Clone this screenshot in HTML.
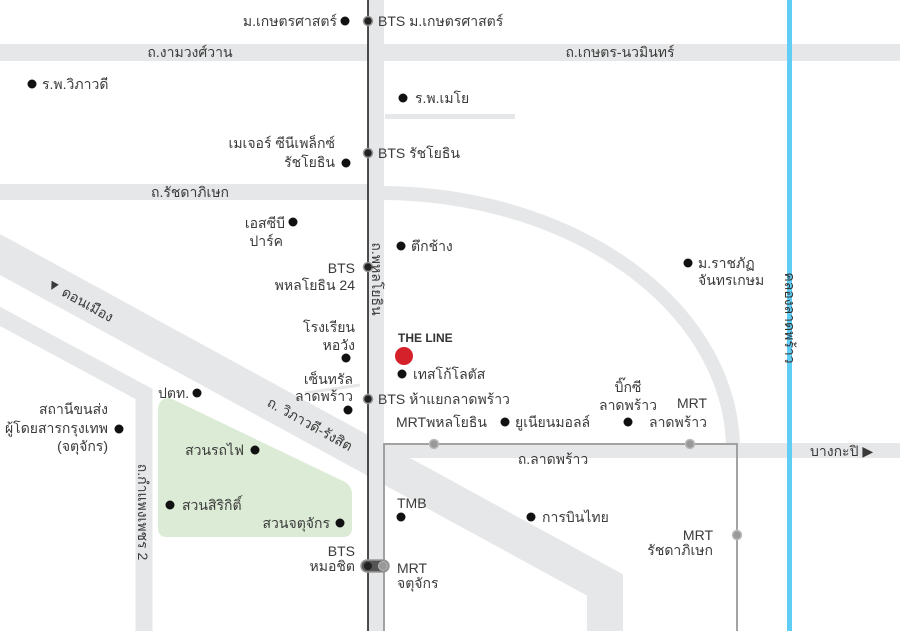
<!DOCTYPE html>
<html><head><meta charset="utf-8"><style>
html,body{margin:0;padding:0;background:#fff;}
svg{display:block;}
text{font-family:"Liberation Sans","DejaVu Sans",sans-serif;font-size:14px;fill:#3a3a3a;dominant-baseline:central;}
.e{text-anchor:end}.m{text-anchor:middle}
</style></head><body>
<svg width="900" height="631" viewBox="0 0 900 631" xmlns="http://www.w3.org/2000/svg">
<rect width="900" height="631" fill="#fff"/>
<g fill="#e6e7e8" stroke="none">
<rect x="0" y="44" width="900" height="17"/>
<rect x="0" y="184" width="380" height="16"/>
<rect x="368" y="0" width="16" height="631"/>
<rect x="385" y="114" width="130" height="5"/>
<rect x="383" y="443" width="517" height="15"/>
</g>
<path d="M380,193 A353 257 0 0 1 733,450" fill="none" stroke="#e6e7e8" stroke-width="14"/>
<path d="M-10,249 L605,585 L605,640" stroke="#e6e7e8" stroke-width="36" fill="none" stroke-linejoin="miter"/>
<path d="M-10,311 L144,394 L144,640" stroke="#e6e7e8" stroke-width="17" fill="none" stroke-linejoin="miter"/>
<path d="M305,393 L360,385" stroke="#e6e7e8" stroke-width="3" fill="none"/>
<path d="M170,398 L345,482 Q352,486 352,495 L352,528 Q352,537 343,537 L167,537 Q158,537 158,528 L158,410 Q158,398 170,398 Z" fill="#dcebd6"/>
<rect x="787" y="0" width="5" height="631" fill="#5fcdf5"/>
<path d="M384,631 L384,444 L737,444 L737,631" fill="none" stroke="#999" stroke-width="1.8"/>
<line x1="368" y1="0" x2="368" y2="631" stroke="#222" stroke-width="1.6"/>
<g fill="#999" stroke="#bbb" stroke-width="1.5">
<circle cx="434" cy="444" r="4.5"/><circle cx="690" cy="444" r="4.5"/><circle cx="737" cy="535" r="4.5"/>
</g>
<g fill="#222" stroke="#999" stroke-width="1.5">
<circle cx="368" cy="21" r="4.5"/><circle cx="368" cy="153" r="4.5"/><circle cx="368" cy="267" r="4.5"/><circle cx="368" cy="399" r="4.5"/>
</g>
<rect x="361" y="560" width="28" height="12" rx="6" fill="#555" stroke="#999" stroke-width="1.5"/>
<circle cx="368" cy="566" r="4" fill="#222"/><circle cx="383" cy="566" r="4.5" fill="#999" stroke="#bbb"/>
<g fill="#111">
<circle cx="345" cy="21" r="4.5"/><circle cx="32" cy="84" r="4.5"/><circle cx="403" cy="98" r="4.5"/>
<circle cx="346" cy="163" r="4.5"/><circle cx="293" cy="222" r="4.5"/><circle cx="401" cy="246" r="4.5"/>
<circle cx="688" cy="263" r="4.5"/><circle cx="346" cy="358" r="4.5"/><circle cx="402" cy="374" r="4.5"/>
<circle cx="348" cy="410" r="4.5"/><circle cx="197" cy="393" r="4.5"/><circle cx="119" cy="429" r="4.5"/>
<circle cx="505" cy="422" r="4.5"/><circle cx="628" cy="422" r="4.5"/><circle cx="255" cy="450" r="4.5"/>
<circle cx="170" cy="505" r="4.5"/><circle cx="340" cy="523" r="4.5"/><circle cx="401" cy="517" r="4.5"/>
<circle cx="531" cy="517" r="4.5"/>
</g>
<circle cx="404" cy="356" r="9" fill="#d4212a"/>
<text class="e" x="337" y="21">ม.เกษตรศาสตร์</text>
<text x="378" y="21">BTS ม.เกษตรศาสตร์</text>
<text class="m" x="190" y="52">ถ.งามวงศ์วาน</text>
<text class="m" x="620" y="52">ถ.เกษตร-นวมินทร์</text>
<text x="42" y="84">ร.พ.วิภาวดี</text>
<text x="415" y="98">ร.พ.เมโย</text>
<text class="e" x="335" y="143">เมเจอร์ ซีนีเพล็กซ์</text>
<text class="e" x="335" y="162">รัชโยธิน</text>
<text x="378" y="153">BTS รัชโยธิน</text>
<text class="m" x="190" y="192">ถ.รัชดาภิเษก</text>
<text class="e" x="285" y="223">เอสซีบี</text>
<text class="e" x="283" y="241">ปาร์ค</text>
<text x="411" y="246">ตึกช้าง</text>
<text class="e" x="355" y="268">BTS</text>
<text class="e" x="355" y="285">พหลโยธิน 24</text>
<text transform="translate(377,279) rotate(90)" class="m">ถ.พหลโยธิน</text>
<text transform="translate(80,300) rotate(29)" class="m">▼ ดอนเมือง</text>
<text x="698" y="263">ม.ราชภัฏ</text>
<text x="698" y="280">จันทรเกษม</text>
<text transform="translate(790,318) rotate(90)" class="m" style="fill:#333">คลองลาดพร้าว</text>
<text class="e" x="355" y="327">โรงเรียน</text>
<text class="e" x="355" y="345">หอวัง</text>
<text x="398" y="338" style="font-size:12px;font-weight:bold;fill:#333">THE LINE</text>
<text x="413" y="374">เทสโก้โลตัส</text>
<text class="e" x="353" y="379">เซ็นทรัล</text>
<text class="e" x="353" y="396">ลาดพร้าว</text>
<text x="378" y="399">BTS ห้าแยกลาดพร้าว</text>
<text x="158" y="393">ปตท.</text>
<text transform="translate(310,424) rotate(29)" class="m">ถ. วิภาวดี-รังสิต</text>
<text class="e" x="108" y="409">สถานีขนส่ง</text>
<text class="e" x="108" y="428">ผู้โดยสารกรุงเทพ</text>
<text class="e" x="108" y="446">(จตุจักร)</text>
<text x="396" y="422">MRTพหลโยธิน</text>
<text x="515" y="422">ยูเนียนมอลล์</text>
<text class="m" x="628" y="387">บิ๊กซี</text>
<text class="m" x="628" y="405">ลาดพร้าว</text>
<text class="m" x="692" y="403">MRT</text>
<text class="m" x="678" y="422">ลาดพร้าว</text>
<text class="m" x="553" y="459">ถ.ลาดพร้าว</text>
<text x="810" y="451">บางกะปิ ▶</text>
<text class="e" x="244" y="450">สวนรถไฟ</text>
<text transform="translate(143,512) rotate(90)" class="m">ถ.กำแพงเพชร 2</text>
<text x="182" y="505">สวนสิริกิติ์</text>
<text class="e" x="330" y="523">สวนจตุจักร</text>
<text x="397" y="503">TMB</text>
<text x="542" y="517">การบินไทย</text>
<text class="e" x="713" y="535">MRT</text>
<text class="e" x="713" y="550">รัชดาภิเษก</text>
<text class="e" x="355" y="551">BTS</text>
<text class="e" x="355" y="566">หมอชิต</text>
<text x="397" y="568">MRT</text>
<text x="397" y="583">จตุจักร</text>
</svg>
</body></html>
